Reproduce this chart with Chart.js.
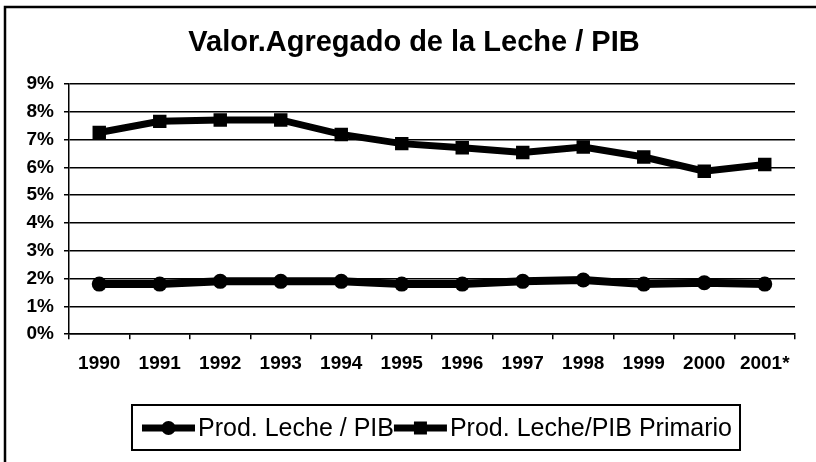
<!DOCTYPE html>
<html>
  <head>
    <title>Valor Agregado de la Leche / PIB</title>
    <script src="https://cdn.jsdelivr.net/npm/chart.js"></script>
    <style>
      html, body { margin: 0; padding: 0; background: #fff; }
      #wrap { width: 816px; height: 462px; }
    </style>
  </head>
  <body>
    <div id="wrap"><canvas id="lecheChart"></canvas></div>

    <script>
      // Datos (en %)
      var anios = ["1990", "1991", "1992", "1993", "1994", "1995",
                   "1996", "1997", "1998", "1999", "2000", "2001*"];
      var lechePib = [1.8, 1.8, 1.9, 1.9, 1.9, 1.8, 1.8, 1.9, 1.95, 1.8, 1.85, 1.8];
      var lechePibPrimario = [7.25, 7.65, 7.7, 7.7, 7.18, 6.85, 6.7, 6.53, 6.73, 6.37, 5.86, 6.1];
      var nombresSeries = ["Prod. Leche / PIB", "Prod. Leche/PIB Primario"];
      var titulo = "Valor.Agregado de la Leche / PIB";

      var fuente = "'Liberation Sans', Arial, sans-serif";

      // marco, titulo centrado y leyenda con recuadro
      var marcoPlugin = {
        id: "marco",
        afterLayout: function (chart) {
          // el titulo del original esta algo corrido a la derecha
          chart.titleBlock.left = 33;
          chart.titleBlock.right = 795;
        },
        afterDraw: function (chart) {
          var ctx = chart.ctx;
          ctx.save();
          ctx.strokeStyle = "#000";
          ctx.lineWidth = 2.5;
          ctx.beginPath();
          ctx.moveTo(5, 462);
          ctx.lineTo(5, 7);
          ctx.lineTo(816, 7);
          ctx.stroke();

          // leyenda
          ctx.font = "25px " + fuente;
          var simbolo = 53, gap = 3, padL = 10, padR = 8;
          var total = padL + padR;
          chart.data.datasets.forEach(function (ds) {
            total += simbolo + gap + ctx.measureText(ds.label).width;
          });
          var cx = 436, top = 405, bottom = 450, cy = 428;
          var left = cx - total / 2;
          ctx.lineWidth = 2;
          ctx.strokeRect(left, top, total, bottom - top);
          var x = left + padL;
          chart.data.datasets.forEach(function (ds) {
            ctx.fillStyle = "#000";
            ctx.fillRect(x, cy - 3.5, simbolo, 7);
            ctx.beginPath();
            if (ds.pointStyle === "circle") {
              ctx.arc(x + simbolo / 2, cy, 7, 0, Math.PI * 2);
            } else {
              ctx.rect(x + simbolo / 2 - 6.5, cy - 6.5, 13, 13);
            }
            ctx.fill();
            x += simbolo + gap;
            ctx.textBaseline = "middle";
            ctx.textAlign = "left";
            ctx.fillText(ds.label, x, cy + 1);
            x += ctx.measureText(ds.label).width;
          });
          ctx.restore();
        },
      };

      var canvas = document.getElementById("lecheChart").getContext("2d");
      window.myChart = new Chart(canvas, {
        type: "line",
        data: {
          labels: anios,
          datasets: [
            {
              label: nombresSeries[0],
              data: lechePib,
              borderColor: "#000",
              backgroundColor: "#000",
              borderWidth: 8,
              pointStyle: "circle",
              pointRadius: 7.5,
              pointBorderWidth: 0,
              tension: 0,
            },
            {
              label: nombresSeries[1],
              data: lechePibPrimario,
              borderColor: "#000",
              backgroundColor: "#000",
              borderWidth: 7,
              pointStyle: "rect",
              pointRadius: 9.5,
              pointBorderWidth: 0,
              tension: 0,
            },
          ],
        },
        options: {
          responsive: true,
          maintainAspectRatio: false,
          animation: false,
          layout: { padding: { left: 10, right: 21, top: 0, bottom: 74 } },
          scales: {
            x: {
              offset: true,
              grid: {
                display: true,
                drawOnChartArea: false,
                drawTicks: true,
                offset: true,
                tickLength: 5,
                color: "#000",
                lineWidth: 1.5,
              },
              border: { display: true, color: "#000", width: 1.5 },
              ticks: {
                color: "#000",
                padding: 13,
                maxRotation: 0,
                autoSkip: false,
                font: { family: fuente, size: 19, weight: "bold" },
              },
            },
            y: {
              min: 0,
              max: 9,
              afterFit: function (scale) {
                scale.width = 59;
              },
              grid: {
                color: "#000",
                lineWidth: 1.5,
                tickLength: 5,
              },
              border: { display: true, color: "#000", width: 1.5 },
              ticks: {
                stepSize: 1,
                color: "#000",
                padding: 10,
                font: { family: fuente, size: 19, weight: "bold" },
                callback: function (v) {
                  return v + "%";
                },
              },
            },
          },
          plugins: {
            legend: { display: false },
            tooltip: { enabled: false },
            title: {
              display: true,
              text: titulo,
              color: "#000",
              font: { family: fuente, size: 29, weight: "bold" },
              padding: { top: 26, bottom: 23 },
            },
          },
        },
        plugins: [marcoPlugin],
      });
    </script>
  </body>
</html>
